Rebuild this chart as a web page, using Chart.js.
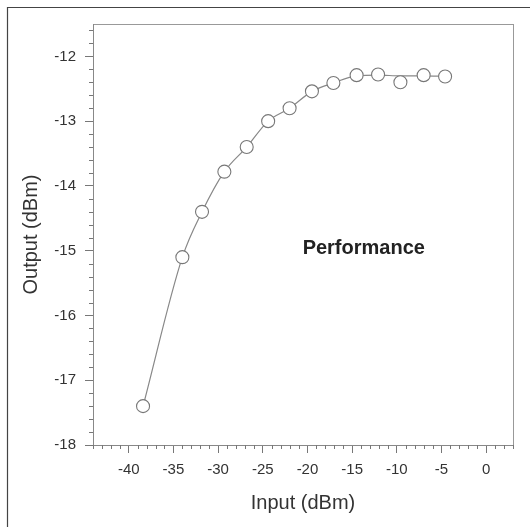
<!DOCTYPE html>
<html>
<head>
<meta charset="utf-8">
<style>
  html, body { margin: 0; padding: 0; background: #fff; }
  #wrap { position: relative; width: 530px; height: 527px; }
</style>
<script src="https://cdn.jsdelivr.net/npm/chart.js@4.4.1/dist/chart.umd.min.js"></script>
</head>
<body>
<div id="wrap"><canvas id="c" width="530" height="527"></canvas></div>
<script>
// Measured input power (dBm) and output power (dBm)
const inputDbm  = [-38.4, -34.0, -31.8, -29.3, -26.8, -24.4, -22.0, -19.5, -17.1, -14.5, -12.1, -9.6, -7.0, -4.6];
const outputDbm = [-17.4, -15.1, -14.4, -13.78, -13.4, -13.0, -12.8, -12.54, -12.41, -12.29, -12.28, -12.40, -12.29, -12.31];
// Smooth trend curve through the measurements
const trendDbm  = [-17.4, -15.1, -14.4, -13.78, -13.4, -13.0, -12.8, -12.54, -12.41, -12.3, -12.29, -12.3, -12.3, -12.31];

const xTickValues = [-40, -35, -30, -25, -20, -15, -10, -5, 0];
const yTickValues = [-18, -17, -16, -15, -14, -13, -12];

const FONT = "'Liberation Sans', Arial, sans-serif";

const measured = inputDbm.map((x, i) => ({ x, y: outputDbm[i] }));
const trend = inputDbm.map((x, i) => ({ x, y: trendDbm[i] }));

// Frame, plot box, minor ticks and the inline caption
const decorations = {
  id: 'decorations',
  beforeDraw(chart) {
    const ctx = chart.ctx;
    ctx.save();
    ctx.strokeStyle = '#444';
    ctx.lineWidth = 1.2;
    ctx.beginPath();
    ctx.moveTo(7.5, 527);
    ctx.lineTo(7.5, 7.5);
    ctx.lineTo(530, 7.5);
    ctx.stroke();
    const a = chart.chartArea;
    ctx.strokeStyle = '#999';
    ctx.lineWidth = 1;
    ctx.strokeRect(Math.round(a.left) + 0.5, Math.round(a.top) + 0.5,
                   Math.round(a.right - a.left), Math.round(a.bottom - a.top));
    ctx.restore();
  },
  afterDraw(chart) {
    const ctx = chart.ctx;
    const xs = chart.scales.x, ys = chart.scales.y;
    ctx.save();
    ctx.strokeStyle = '#777';
    ctx.lineWidth = 1;
    ctx.beginPath();
    // minor ticks every 1 dB on the input axis
    for (let v = Math.ceil(xs.min); v <= xs.max; v += 1) {
      if (v % 5 === 0) continue;
      const px = Math.round(xs.getPixelForValue(v)) + 0.5;
      ctx.moveTo(px, xs.top);
      ctx.lineTo(px, xs.top + 4);
    }
    // minor ticks every 0.2 dB on the output axis
    for (let k = Math.ceil(ys.min * 5); k <= Math.floor(ys.max * 5); k++) {
      if (k % 5 === 0) continue;
      const py = Math.round(ys.getPixelForValue(k / 5)) + 0.5;
      ctx.moveTo(ys.right - 4, py);
      ctx.lineTo(ys.right, py);
    }
    ctx.stroke();
    ctx.fillStyle = '#222';
    ctx.font = 'bold 20px ' + FONT;
    ctx.textAlign = 'center';
    ctx.textBaseline = 'middle';
    ctx.fillText('Performance', xs.getPixelForValue(-13.7), ys.getPixelForValue(-14.97));
    ctx.restore();
  }
};

new Chart(document.getElementById('c'), {
  type: 'scatter',
  data: {
    datasets: [
      {
        label: 'trend',
        data: trend,
        showLine: true,
        cubicInterpolationMode: 'monotone',
        borderColor: '#888',
        borderWidth: 1.2,
        pointRadius: 0,
        pointHoverRadius: 0,
        order: 2
      },
      {
        label: 'Output',
        data: measured,
        showLine: false,
        pointRadius: 6.5,
        pointBorderWidth: 1.1,
        pointBorderColor: '#777',
        pointBackgroundColor: '#fff',
        order: 1
      }
    ]
  },
  plugins: [decorations],
  options: {
    responsive: false,
    animation: false,
    events: [],
    layout: { padding: { left: 0, top: 24, right: 17, bottom: 0 } },
    plugins: { legend: { display: false }, tooltip: { enabled: false } },
    scales: {
      x: {
        type: 'linear',
        min: -44,
        max: 3,
        afterFit(scale) { scale.height = 82; },
        afterBuildTicks(scale) { scale.ticks = xTickValues.map(v => ({ value: v })); },
        grid: { drawOnChartArea: false, drawTicks: true, tickLength: 8, color: '#777' },
        border: { display: true, color: '#888', width: 1 },
        ticks: {
          padding: 8,
          maxRotation: 0,
          color: '#333',
          font: { family: FONT, size: 15 },
          callback: v => String(v)
        },
        title: {
          display: true,
          text: 'Input (dBm)',
          color: '#333',
          font: { family: FONT, size: 20 },
          padding: { top: 0, bottom: 12 }
        }
      },
      y: {
        type: 'linear',
        min: -18,
        max: -11.5,
        afterFit(scale) { scale.width = 93; },
        afterBuildTicks(scale) { scale.ticks = yTickValues.map(v => ({ value: v })); },
        grid: { drawOnChartArea: false, drawTicks: true, tickLength: 8, color: '#777' },
        border: { display: true, color: '#888', width: 1 },
        ticks: {
          padding: 9,
          color: '#333',
          font: { family: FONT, size: 15 },
          callback: v => String(v)
        },
        title: {
          display: true,
          text: 'Output (dBm)',
          color: '#333',
          font: { family: FONT, size: 20 },
          padding: { top: 19, bottom: 0 }
        }
      }
    }
  }
});
</script>
</body>
</html>
